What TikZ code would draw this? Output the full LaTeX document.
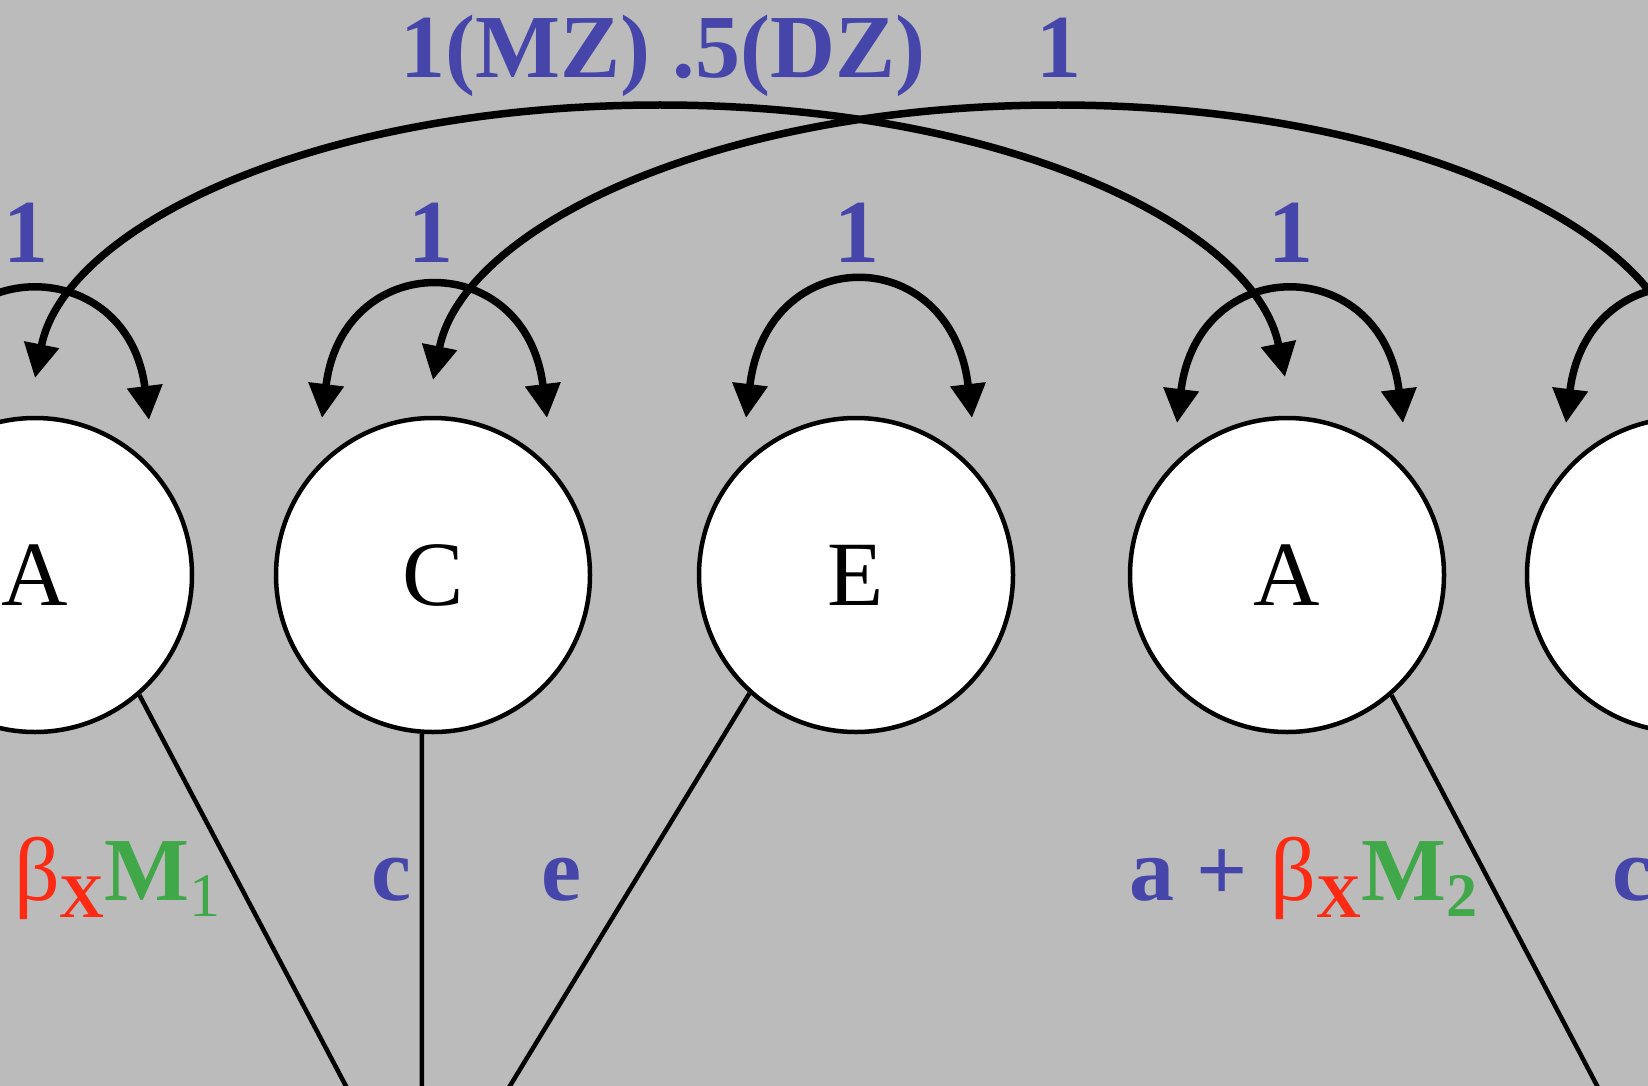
\documentclass[tikz,border=0pt]{standalone}
\usepackage{fontspec}
\setmainfont{Liberation Serif}
\usetikzlibrary{arrows.meta,calc}
\definecolor{lblblue}{RGB}{70,70,170}
\definecolor{lblred}{RGB}{255,42,20}
\definecolor{lblgreen}{RGB}{64,168,72}
\definecolor{bggray}{RGB}{187,187,187}
\newcommand\subsz{\fontsize{62}{62}\selectfont}
\begin{document}
\begin{tikzpicture}[x=1pt,y=-1pt,
  latent/.style={circle,draw=black,line width=4.5pt,fill=white,
    minimum size=314pt,inner sep=0pt,font=\fontsize{92}{92}\selectfont},
  varc/.style={line width=7.5pt,{Triangle[length=34pt,width=34pt]}-{Triangle[length=34pt,width=34pt]}},
  load/.style={line width=4.5pt},
  coef/.style={text=lblblue,inner sep=0pt,anchor=base,
    font=\fontsize{90}{90}\selectfont\bfseries},
  eqlbl/.style={inner sep=0pt,anchor=base west,font=\fontsize{90}{90}\selectfont}]
  \fill[bggray] (0,0) rectangle (1648,1086);
  \useasboundingbox (0,0) rectangle (1648,1086);
  \clip (0,0) rectangle (1648,1086);

  % phenotype targets below the frame
  \coordinate (p1) at (422,1230);
  \coordinate (p2) at (1673,1230);

  % latent factors
  \node[latent] (a1) at (35,575) {A};
  \node[latent] (c1) at (433,575) {C};
  \node[latent] (e1) at (856,575) {E};
  \node[latent] (a2) at (1287,575) {A};
  \node[latent] (c2) at (1684,575) {};

  % paths to the phenotypes
  \draw[load] (a1.-49) -- (p1);
  \draw[load] (c1.-94) -- (p1);
  \draw[load] (e1.-132) -- (p1);
  \draw[load] (a2.-49) -- (p2);

  % variances
  \draw[varc] ($(a1)+(-114,-155)$) .. controls ($(a1)+(-93,-322)$) and ($(a1)+(93,-322)$) .. ($(a1)+(114,-155)$);
  \draw[varc] ($(c1)+(-111,-157)$) .. controls ($(c1)+(-90,-327)$) and ($(c1)+(93,-327)$) .. ($(c1)+(114,-157)$);
  \draw[varc] ($(e1)+(-110,-157)$) .. controls ($(e1)+(-89,-334)$) and ($(e1)+(95,-334)$) .. ($(e1)+(116,-157)$);
  \draw[varc] ($(a2)+(-110,-152)$) .. controls ($(a2)+(-89,-323)$) and ($(a2)+(95,-323)$) .. ($(a2)+(116,-152)$);
  \draw[varc] ($(c2)+(-118,-152)$) .. controls ($(c2)+(-97,-323)$) and ($(c2)+(87,-323)$) .. ($(c2)+(108,-152)$);

  % covariances between twins
  \coordinate (atop) at (660,105);
  \coordinate (ctop) at (1058,105);
  \draw[varc] ($(a1)+(0,-197)$) .. controls (65,227) and (315,105) .. (atop)
    .. controls (1005,105) and (1255,227) .. ($(a2)+(-2,-198)$);
  \draw[varc] ($(c1)+(0,-195)$) .. controls (463,229) and (713,105) .. (ctop)
    .. controls (1403,105) and (1654,229) .. ($(c2)+(0,-195)$);

  % coefficients
  \node[coef] (kmz) at (663,78) {1(MZ) .5(DZ)};
  \node[coef] (kc) at (1059,78) {1};
  \node[coef] (ka1) at (26,262) {1};
  \node[coef] (kc1) at (431,262) {1};
  \node[coef] (ke1) at (857,262) {1};
  \node[coef] (ka2) at (1291,262) {1};

  \node[eqlbl] (la1) at (14,900) {\color{lblred}β\raisebox{-17pt}{\subsz\bfseries X}\color{lblgreen}\textbf{M}\raisebox{-16pt}{\subsz 1}};
  \node[coef] (lc1) at (391,900) {c};
  \node[coef] (le1) at (561,900) {e};
  \node[eqlbl] (la2) at (1129,900) {\color{lblblue}\textbf{a + }\color{lblred}β\raisebox{-17pt}{\subsz\bfseries X}\color{lblgreen}\textbf{M}\raisebox{-16pt}{\subsz\bfseries 2}};
  \node[coef,anchor=base west] (lc2) at (1612,900) {c};
\end{tikzpicture}
\end{document}
